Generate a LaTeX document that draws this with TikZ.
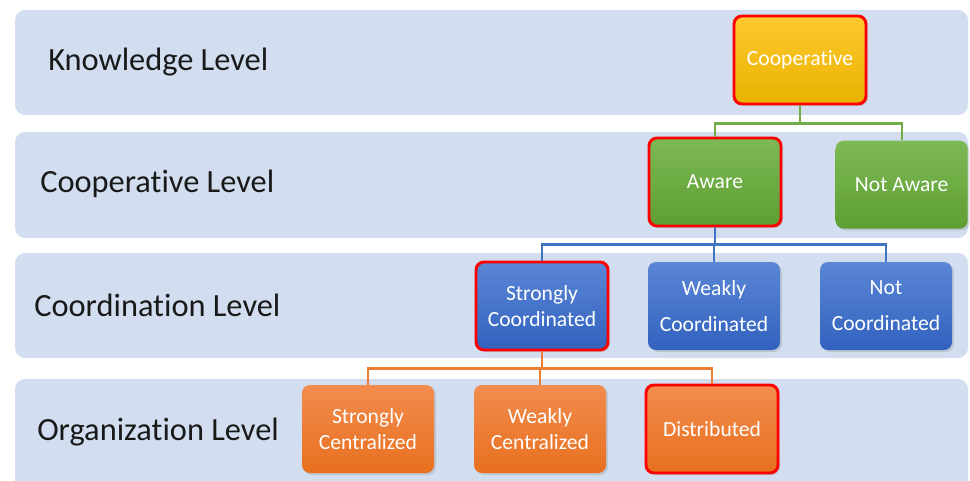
\documentclass[tikz,border=0pt]{standalone}
\usepackage{fontspec}
\setmainfont{Carlito}[Ligatures=NoCommon]
\usetikzlibrary{shadows}

\definecolor{bandblue}{HTML}{D2DEEF}
\definecolor{yelTop}{HTML}{FFC830}
\definecolor{yelBot}{HTML}{E9B300}
\definecolor{grnTop}{HTML}{7DB955}
\definecolor{grnBot}{HTML}{5E9E32}
\definecolor{bluTop}{HTML}{5A86D5}
\definecolor{bluBot}{HTML}{3262BF}
\definecolor{orgTop}{HTML}{F28C4E}
\definecolor{orgBot}{HTML}{E8701F}
\definecolor{grnLine}{HTML}{70AD47}
\definecolor{bluLine}{HTML}{4472C4}
\definecolor{orgLine}{HTML}{ED7D31}

\begin{document}
\begin{tikzpicture}
    [x=0.75pt, y=-0.75pt,
    node distance=129pt,
    band/.style={fill=bandblue, rounded corners=7.5pt},
    lvl/.style={anchor=west, inner sep=0pt, font=\fontsize{24.3}{28}\selectfont, text=black!90},
    box/.style={rounded corners=6pt, minimum width=99pt, minimum height=66pt, align=center,
        text=white, font=\fontsize{16.2}{18}\selectfont,
        drop shadow={opacity=0.25, shadow xshift=1.5pt, shadow yshift=-1.5pt}},
    pick/.style={draw=red, line width=2.2pt},
    yel/.style={box, top color=yelTop, bottom color=yelBot},
    grn/.style={box, top color=grnTop, bottom color=grnBot},
    blu/.style={box, top color=bluTop, bottom color=bluBot},
    org/.style={box, top color=orgTop, bottom color=orgBot},
    link/.style={line width=1.6pt}]
    \useasboundingbox (0,0) rectangle (970,481);
    \clip (0,0) rectangle (970,481);

        %% level bands
    \fill[band] (15,10) rectangle (968,115);
    \fill[band] (15,132) rectangle (968,238);
    \fill[band] (15,253) rectangle (968,358);
    \fill[band] (15,379) rectangle (968,500);

    \node[lvl] (L1) at (48,62) {Knowledge Level};
    \node[lvl] (L2) at (40,184) {Cooperative Level};
    \node[lvl] (L3) at (34,305) {Coordination Level};
    \node[lvl] (L4) at (37,432) {Organization Level};

        %% knowledge + cooperative
    \node[yel, pick] (K1) at (800,60) {Cooperative};
    \node[grn, pick] (C1) at (715,182) {Aware};
    \node[grn, right of = C1, node distance=140pt, yshift=-2pt] (C2) {Not Aware};

        %% coordination
    \node[blu, pick] (D1) at (542,306) {Strongly\\[1pt]Coordinated};
    \node[blu, right of = D1] (D2) {Weakly\\[9pt]Coordinated};
    \node[blu, right of = D2] (D3) {Not\\[9pt]Coordinated};

        %% organization
    \node[org] (O1) at (368,429) {Strongly\\[1pt]Centralized};
    \node[org, right of = O1] (O2) {Weakly\\[1pt]Centralized};
    \node[org, pick, right of = O2] (O3) {Distributed};

    \draw[link, grnLine] (K1.south) -- ++(0,18) -| (C1.north);
    \draw[link, grnLine] (K1.south) -- ++(0,18) -| (C2.north);
    \draw[link, bluLine] (C1.south) -- ++(0,17) -| (D1.north);
    \draw[link, bluLine] (C1.south) -- ++(0,17) -| (D2.north);
    \draw[link, bluLine] (C1.south) -- ++(0,17) -| (D3.north);
    \draw[link, orgLine] (D1.south) -- ++(0,17) -| (O1.north);
    \draw[link, orgLine] (D1.south) -- ++(0,17) -| (O2.north);
    \draw[link, orgLine] (D1.south) -- ++(0,17) -| (O3.north);
\end{tikzpicture}
\end{document}
